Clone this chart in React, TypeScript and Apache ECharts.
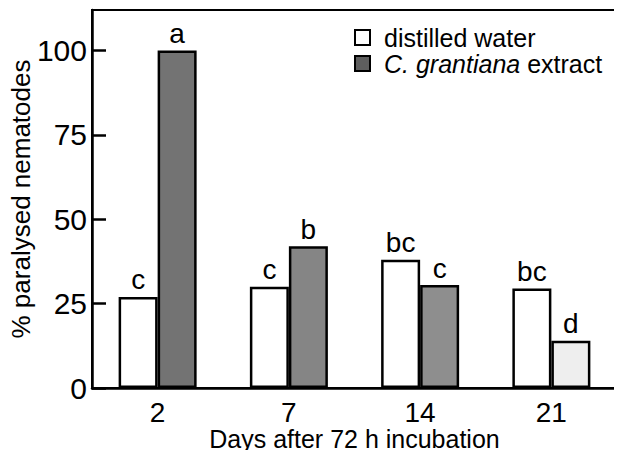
import React, { useEffect, useRef } from "react";
import * as echarts from "echarts";

const categories = ["2", "7", "14", "21"];
const waterValues = [27, 30, 38, 29.5];
const extractValues = [100, 42, 30.5, 14];
const waterLetters = ["c", "c", "bc", "bc"];
const extractLetters = ["a", "b", "c", "d"];
const extractColors = ["#737373", "#858585", "#8e8e8e", "#eeeeee"];
const yTicks = [0, 25, 50, 75, 100];

export default function App() {
  const ref = useRef<HTMLDivElement>(null);
  useEffect(() => {
    if (!ref.current) return;
    const chart = echarts.init(ref.current, null, { renderer: "svg" });
    const font = "Liberation Sans, Arial, sans-serif";
    const labelStyle = {
      show: true,
      position: "top" as const,
      distance: 3,
      color: "#000",
      fontSize: 28,
      fontFamily: font,
    };
    chart.setOption({
      animation: false,
      backgroundColor: "#fff",
      textStyle: { fontFamily: font },
      grid: {
        left: 92,
        top: 10,
        right: 5,
        bottom: 70,
        outerBoundsMode: "none",
        containLabel: false,
        show: true,
        borderColor: "#000",
        borderWidth: 2,
        backgroundColor: "transparent",
      },
      legend: {
        orient: "vertical",
        left: 349,
        top: 20,
        icon: "rect",
        itemWidth: 15,
        itemHeight: 15,
        itemGap: 1,
        data: [
          {
            name: "distilled water",
            itemStyle: { color: "#fff", borderColor: "#000", borderWidth: 2 },
          },
          {
            name: "C. grantiana extract",
            itemStyle: { color: "#5e5e5e", borderColor: "#000", borderWidth: 2 },
          },
        ],
        formatter: (name: string) =>
          name === "C. grantiana extract" ? "{i|C. grantiana} extract" : name,
        textStyle: {
          color: "#000",
          fontSize: 25,
          lineHeight: 24,
          padding: [0, 0, 0, 9],
          fontFamily: font,
          rich: {
            i: { fontStyle: "italic", fontSize: 25, lineHeight: 24, fontFamily: font, color: "#000" },
          },
        },
      },
      xAxis: {
        type: "category",
        data: categories,
        name: "Days after 72 h incubation",
        nameLocation: "middle",
        nameGap: 38,
        nameMoveOverlap: false,
        nameTextStyle: {
          fontSize: 25,
          color: "#000",
          fontFamily: font,
          verticalAlign: "top",
        },
        axisLine: { lineStyle: { color: "#000", width: 2.5 } },
        axisTick: { inside: true, length: 13, lineStyle: { color: "#000", width: 2 } },
        axisLabel: { fontSize: 28, color: "#000", margin: 10, fontFamily: font },
      },
      yAxis: {
        type: "value",
        min: 0,
        max: 112,
        name: "% paralysed nematodes",
        nameLocation: "middle",
        nameGap: 58,
        nameMoveOverlap: false,
        nameTextStyle: { fontSize: 26, color: "#000", fontFamily: font },
        splitLine: { show: false },
        axisLine: { show: true, lineStyle: { color: "#000", width: 2.5 } },
        axisTick: {
          show: true,
          inside: true,
          length: 14,
          lineStyle: { color: "#000", width: 2.5 },
          customValues: yTicks,
        },
        axisLabel: {
          fontSize: 30,
          color: "#000",
          margin: 5,
          fontFamily: font,
          customValues: yTicks,
        },
      },
      series: [
        {
          name: "distilled water",
          type: "bar",
          barWidth: 39,
          barGap: "0%",
          data: waterValues.map((v, i) => ({
            value: v,
            label: { ...labelStyle, formatter: waterLetters[i] },
          })),
          itemStyle: { color: "#fff", borderColor: "#000", borderWidth: 2.5 },
        },
        {
          name: "C. grantiana extract",
          type: "bar",
          barWidth: 39,
          barGap: "0%",
          data: extractValues.map((v, i) => ({
            value: v,
            itemStyle: { color: extractColors[i] },
            label: { ...labelStyle, formatter: extractLetters[i] },
          })),
          itemStyle: { borderColor: "#000", borderWidth: 2.5 },
        },
      ],
    });
    return () => chart.dispose();
  }, []);
  return <div ref={ref} style={{ width: 622, height: 458, margin: -8 }} />;
}
